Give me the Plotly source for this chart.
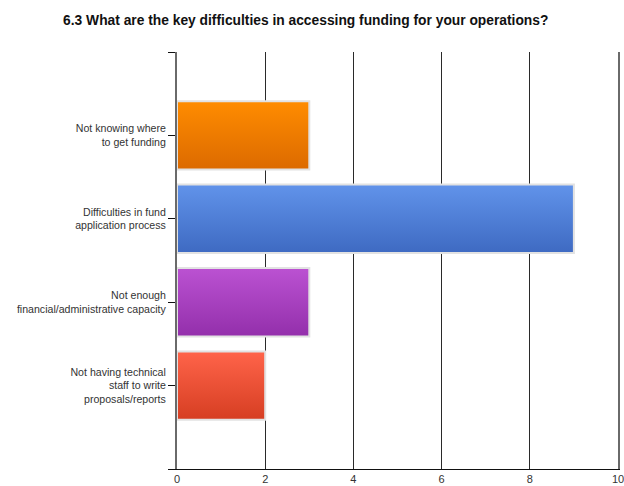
import plotly.graph_objects as go

# Survey responses: key difficulties in accessing funding
categories = [
    "Not knowing where<br>to get funding",
    "Difficulties in fund<br>application process",
    "Not enough<br>financial/administrative capacity",
    "Not having technical<br>staff to write<br>proposals/reports",
]
counts = [3, 9, 3, 2]
x_ticks = [0, 2, 4, 6, 8, 10]

# top / bottom colours of each bar's vertical gradient
top_colors = ["#ff8c00", "#6193ea", "#bb52d2", "#ff644a"]
bottom_colors = ["#dc6a00", "#3e6ac2", "#932fab", "#d63e22"]

BAR_HALF = 0.41

fig = go.Figure()
for i, (val, c_top, c_bot) in enumerate(zip(counts, top_colors, bottom_colors)):
    pos = i + 1
    y0, y1 = pos - BAR_HALF, pos + BAR_HALF
    fig.add_trace(go.Scatter(
        x=[0, val, val, 0, 0],
        y=[y0, y0, y1, y1, y0],
        mode="lines",
        fill="toself",
        fillgradient=dict(type="vertical",
                          colorscale=[[0, c_bot], [1, c_top]]),
        line=dict(color="#e2e2e2", width=2),
        hoverinfo="skip",
        showlegend=False,
    ))

fig.update_layout(
    width=624, height=486,
    paper_bgcolor="white", plot_bgcolor="white",
    margin=dict(l=177, r=6, t=52, b=17, autoexpand=False),
    title=dict(
        text="<b>6.3 What are the key difficulties in accessing funding for your operations?</b>",
        x=0.49, xanchor="center", y=0.958, yanchor="middle",
        font=dict(family="Liberation Sans, Arial", size=13.8, color="#111"),
    ),
    font=dict(family="Liberation Sans, Arial", size=11, color="#333"),
)

fig.update_xaxes(
    range=[0, 10], tickvals=x_ticks, ticktext=[str(v) for v in x_ticks],
    showgrid=True, gridcolor="#2a2a2a", gridwidth=1,
    showline=True, linecolor="#111", linewidth=1,
    ticks="", zeroline=False, ticklabeloverflow="allow",
    automargin=False,
    tickfont=dict(size=11, color="#333"),
)
fig.update_yaxes(
    range=[5, 0],
    tickvals=[0, 1, 2, 3, 4, 5],
    ticktext=[""] + categories + [""],
    ticks="outside", ticklen=7, tickcolor="#111", tickwidth=1,
    showgrid=False, zeroline=False, automargin=False,
    showline=True, linecolor="#6a6a6a", linewidth=2, mirror=True,
    tickfont=dict(size=10.6, color="#333"),
)

fig.write_html("out.html")
